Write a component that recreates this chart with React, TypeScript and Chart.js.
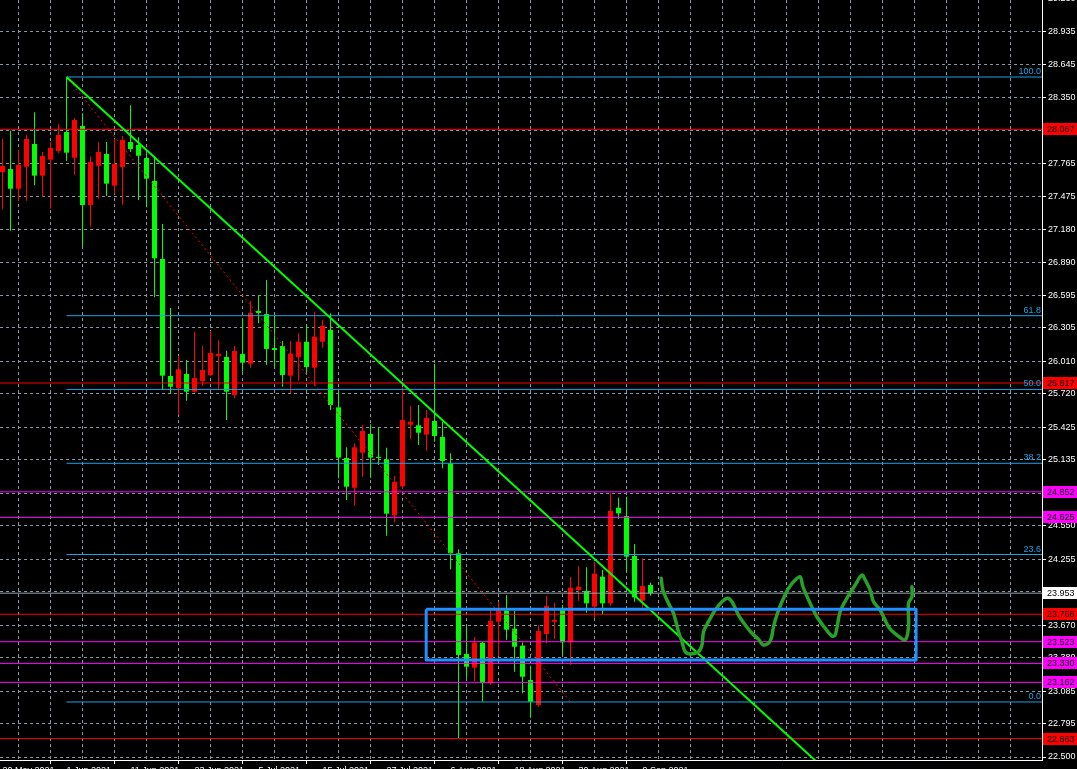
import React, { useEffect, useRef } from 'react';
import { Chart, registerables } from 'chart.js';

Chart.register(...registerables);

// ---- Data ----
const dateLabels = ['20 May 2021', '1 Jun 2021', '11 Jun 2021', '23 Jun 2021', '5 Jul 2021', '15 Jul 2021', '27 Jul 2021', '6 Aug 2021', '18 Aug 2021', '30 Aug 2021', '9 Sep 2021'];

const priceTicks = [22.5, 22.795, 23.085, 23.38, 23.67, 23.965, 24.255, 24.55, 24.84, 25.135, 25.425, 25.72, 26.01, 26.305, 26.595, 26.89, 27.18, 27.475, 27.765, 28.06, 28.35, 28.645, 28.935, 29.23];

const opens = [27.688, 27.715, 27.540, 27.735, 27.937, 27.656, 27.798, 27.875, 28.043, 27.815, 28.096, 27.396, 27.744, 27.848, 27.567, 27.733, 27.954, 27.928, 27.813, 27.609, 26.917, 25.879, 25.770, 25.897, 25.740, 25.835, 25.888, 26.056, 26.048, 25.711, 26.074, 25.988, 26.456, 26.429, 26.127, 26.145, 25.882, 26.048, 26.183, 25.953, 26.183, 26.287, 25.601, 25.152, 24.888, 25.199, 25.365, 25.161, 25.140, 24.644, 24.900, 25.447, 25.442, 25.359, 25.480, 25.338, 25.105, 24.307, 23.414, 23.292, 23.514, 23.154, 23.700, 23.798, 23.638, 23.487, 23.183, 22.961, 23.591, 23.700, 23.804, 23.517, 23.981, 23.972, 23.833, 24.099, 23.863, 24.711, 24.637, 24.283, 23.886, 24.025];
const highs = [27.981, 28.055, 27.884, 28.019, 28.218, 27.866, 27.954, 28.114, 28.531, 28.167, 28.209, 27.826, 27.954, 27.954, 27.981, 28.008, 28.280, 27.996, 27.854, 27.824, 27.227, 26.482, 26.056, 26.021, 26.272, 26.145, 26.278, 26.198, 26.103, 26.145, 26.385, 26.544, 26.598, 26.731, 26.414, 26.189, 26.189, 26.258, 26.331, 26.449, 26.376, 26.435, 25.735, 25.247, 25.282, 25.445, 25.451, 25.418, 25.243, 24.992, 25.779, 25.613, 25.622, 25.578, 25.986, 25.474, 25.194, 24.342, 23.653, 23.564, 23.525, 23.804, 23.875, 23.937, 23.795, 23.517, 23.310, 23.668, 23.928, 23.866, 23.848, 24.096, 24.194, 24.182, 24.232, 24.159, 24.839, 24.800, 24.809, 24.389, 24.262, 24.046];
const lows = [27.358, 27.168, 27.434, 27.434, 27.570, 27.469, 27.363, 27.854, 27.786, 27.664, 27.032, 27.203, 27.452, 27.476, 27.496, 27.398, 27.866, 27.440, 27.375, 26.577, 25.755, 25.726, 25.533, 25.660, 25.731, 25.790, 25.879, 25.761, 25.489, 25.681, 25.917, 25.953, 26.346, 25.977, 25.956, 25.784, 25.726, 25.837, 25.908, 25.790, 26.130, 25.578, 24.972, 24.779, 24.729, 24.986, 24.977, 25.090, 24.463, 24.582, 24.880, 25.318, 25.267, 25.217, 25.296, 25.060, 24.165, 22.666, 23.203, 23.174, 22.990, 23.139, 23.398, 23.538, 23.257, 23.065, 22.849, 22.946, 23.508, 23.547, 23.405, 23.316, 23.886, 23.780, 23.730, 23.768, 23.842, 24.611, 24.135, 23.877, 23.824, 23.931];
const closes = [27.742, 27.540, 27.750, 27.981, 27.656, 27.830, 27.901, 28.017, 27.860, 28.150, 27.396, 27.777, 27.866, 27.585, 27.759, 27.972, 27.892, 27.833, 27.629, 26.923, 25.882, 25.784, 25.939, 25.740, 25.861, 25.932, 26.083, 26.074, 25.740, 26.101, 25.997, 26.438, 26.438, 26.119, 26.110, 25.888, 26.077, 26.183, 25.959, 26.228, 26.325, 25.622, 25.155, 24.897, 25.247, 25.391, 25.155, 25.152, 24.658, 24.939, 25.489, 25.474, 25.376, 25.507, 25.347, 25.125, 24.307, 23.405, 23.301, 23.514, 23.154, 23.706, 23.798, 23.629, 23.478, 23.212, 22.990, 23.618, 23.839, 23.715, 23.517, 24.002, 24.010, 23.863, 24.126, 23.863, 24.682, 24.661, 24.277, 23.916, 24.017, 23.953];

const fibStartBar = 8;
const fibPrices = [28.531, 26.414, 25.760, 25.105, 24.296, 22.988];
const fibLabels = ['100.0', '61.8', '50.0', '38.2', '23.6', '0.0'];
const fibDiagX = [8, 71];
const fibDiagY = [28.531, 22.988];

const redLevels = [28.067, 25.817, 23.766, 22.663];
const magentaLevels = [24.852, 24.625, 23.523, 23.330, 23.162];
const bidPrice = 23.953;

const trendX = [8, 105];
const trendY = [28.531, 22.249];

const boxX = [52.96, 114.2];
const boxY = [23.810, 23.360];

const scribbleX = [82.34, 82.55, 83.25, 83.88, 84.5, 84.93, 85.34, 85.96, 87.0, 87.43, 87.63, 88.25, 89.09, 89.93, 90.63, 91.18, 92.0, 92.84, 93.68, 94.5, 95.13, 95.96, 96.38, 96.8, 97.43, 98.25, 99.09, 99.71, 100.05, 100.96, 101.8, 102.84, 103.68, 104.09, 104.71, 105.55, 106.59, 107.43, 107.84, 108.46, 108.88, 109.71, 110.75, 111.8, 112.84, 113.25, 113.25, 113.68, 113.68];
const scribbleY = [24.085, 23.981, 23.863, 23.774, 23.611, 23.523, 23.434, 23.414, 23.434, 23.493, 23.611, 23.700, 23.804, 23.877, 23.908, 23.877, 23.759, 23.671, 23.597, 23.544, 23.493, 23.529, 23.656, 23.759, 23.877, 23.996, 24.070, 24.099, 24.010, 23.863, 23.744, 23.641, 23.573, 23.582, 23.789, 23.908, 24.026, 24.114, 24.070, 23.981, 23.877, 23.804, 23.656, 23.582, 23.538, 23.656, 23.863, 23.922, 24.010];

// ---- Styles ----
const X_MIN = -0.3125;
const X_MAX = 129.9375;
const Y_MIN = 22.4734;
const Y_MAX = 29.214;
const UP = '#ff0000';
const DOWN = '#00ff00';
const GRID = '#8895a5';
const FIB = '#19a3e8';
const MAGENTA = '#ff00ff';
const FONT = '"Liberation Sans", Arial, sans-serif';

function hLine(price: number, color: string, x0 = X_MIN - 1) {
  return {
    type: 'line' as const,
    data: [{ x: x0, y: price }, { x: X_MAX + 1, y: price }],
    borderColor: color,
    borderWidth: 1,
    pointRadius: 0,
    clip: 0,
    order: 2,
  };
}

function zeroPadding(scale: any) {
  scale.paddingTop = 0;
  scale.paddingBottom = 0;
  scale.paddingLeft = 0;
  scale.paddingRight = 0;
}

const overlayPlugin = {
  id: 'mt4overlay',
  beforeDraw(chart: any) {
    const ctx = chart.ctx;
    ctx.save();
    ctx.fillStyle = '#000';
    ctx.fillRect(0, 0, chart.width, chart.height);
    ctx.restore();
  },
  afterDraw(chart: any) {
    const ctx = chart.ctx;
    const ys = chart.scales.y;
    const area = chart.chartArea;
    ctx.save();
    ctx.font = `9px ${FONT}`;
    // fib labels
    ctx.textAlign = 'right';
    ctx.textBaseline = 'alphabetic';
    ctx.fillStyle = FIB;
    fibPrices.forEach((p, k) => {
      ctx.fillText(fibLabels[k], area.right - 1, ys.getPixelForValue(p) - 3);
    });
    // price tags
    const tags: { price: number; bg: string }[] = [
      ...redLevels.map((p) => ({ price: p, bg: UP })),
      ...magentaLevels.map((p) => ({ price: p, bg: MAGENTA })),
      { price: bidPrice, bg: '#ffffff' },
    ];
    tags.forEach(({ price, bg }) => {
      const py = ys.getPixelForValue(price);
      ctx.fillStyle = bg;
      ctx.fillRect(area.right + 1, Math.round(py) - 6, chart.width - area.right - 1, 12);
      ctx.fillStyle = '#000';
      ctx.textAlign = 'left';
      ctx.textBaseline = 'middle';
      ctx.fillText(price.toFixed(3), area.right + 5, Math.round(py) + 0.5);
    });
    ctx.restore();
  },
};

export default function App() {
  const ref = useRef<HTMLCanvasElement | null>(null);

  useEffect(() => {
    if (!ref.current) return;
    const bars = opens.map((_, i) => i);
    const colors = bars.map((i) => (closes[i] >= opens[i] ? UP : DOWN));

    const datasets: any[] = [
      ...redLevels.map((p) => hLine(p, UP)),
      ...magentaLevels.map((p) => hLine(p, MAGENTA)),
      hLine(bidPrice, '#9aa3ad'),
      ...fibPrices.map((p) => hLine(p, FIB, fibStartBar)),
      {
        type: 'line',
        data: fibDiagX.map((x, k) => ({ x, y: fibDiagY[k] })),
        borderColor: UP,
        borderWidth: 1,
        borderDash: [2, 3],
        pointRadius: 0,
        clip: 0,
        order: 2,
      },
      {
        type: 'bar',
        data: bars.map((i) => ({ x: i, y: [lows[i], highs[i]] })),
        backgroundColor: colors,
        borderWidth: 0,
        barThickness: 1,
        grouped: false,
        inflateAmount: 0,
        order: 6,
      },
      {
        type: 'bar',
        data: bars.map((i) => ({ x: i, y: [opens[i], closes[i]] })),
        backgroundColor: colors,
        borderWidth: 0,
        barThickness: 5,
        grouped: false,
        inflateAmount: 0,
        minBarLength: 1,
        order: 5,
      },
      {
        type: 'line',
        data: trendX.map((x, k) => ({ x, y: trendY[k] })),
        borderColor: '#00ff00',
        borderWidth: 2,
        pointRadius: 0,
        clip: 0,
        order: 1,
      },
      {
        type: 'line',
        data: [
          { x: boxX[0], y: boxY[0] },
          { x: boxX[1], y: boxY[0] },
          { x: boxX[1], y: boxY[1] },
          { x: boxX[0], y: boxY[1] },
          { x: boxX[0], y: boxY[0] },
        ],
        borderColor: '#1e90ff',
        borderWidth: 3,
        borderJoinStyle: 'round',
        pointRadius: 0,
        tension: 0,
        clip: 0,
        order: 0,
      },
      {
        type: 'line',
        data: scribbleX.map((x, k) => ({ x, y: scribbleY[k] })),
        borderColor: '#27a127',
        borderWidth: 3.5,
        borderCapStyle: 'round',
        borderJoinStyle: 'round',
        pointRadius: 0,
        tension: 0.35,
        clip: 0,
        order: 0,
      },
    ];

    const chart = new Chart(ref.current, {
      type: 'bar',
      data: { datasets },
      plugins: [overlayPlugin],
      options: {
        animation: false,
        responsive: false,
        events: [],
        layout: { padding: 0, autoPadding: false },
        plugins: { legend: { display: false }, tooltip: { enabled: false } },
        scales: {
          x: {
            type: 'linear',
            min: X_MIN,
            max: X_MAX,
            offset: false,
            afterBuildTicks: (scale: any) => {
              const t: any[] = [];
              for (let v = 0; v <= 128; v += 4) t.push({ value: v });
              scale.ticks = t;
            },
            afterFit: (scale: any) => {
              scale.height = 9;
              zeroPadding(scale);
            },
            grid: {
              color: GRID,
              lineWidth: 1,
              tickLength: 4,
              tickColor: (c: any) => (c.tick && c.tick.value % 8 === 0 && c.tick.value <= 80 ? '#ffffff' : 'rgba(0,0,0,0)'),
            },
            border: { display: true, color: '#ffffff', width: 1, dash: [3, 3] },
            ticks: {
              autoSkip: false,
              maxRotation: 0,
              minRotation: 0,
              align: 'start',
              padding: 1,
              color: '#ffffff',
              font: { family: FONT, size: 9 },
              callback: (v: any) => {
                const n = Number(v);
                return n % 8 === 0 && dateLabels[n / 8] ? dateLabels[n / 8] : '';
              },
            },
          },
          y: {
            type: 'linear',
            position: 'right',
            min: Y_MIN,
            max: Y_MAX,
            afterBuildTicks: (scale: any) => {
              scale.ticks = priceTicks.map((v) => ({ value: v }));
            },
            afterFit: (scale: any) => {
              scale.width = 35;
              zeroPadding(scale);
            },
            grid: {
              color: GRID,
              lineWidth: 1,
              tickLength: 4,
              tickColor: '#ffffff',
            },
            border: { display: true, color: '#ffffff', width: 1, dash: [3, 3] },
            ticks: {
              autoSkip: false,
              padding: 2,
              color: '#ffffff',
              font: { family: FONT, size: 9 },
              callback: (v: any) => Number(v).toFixed(3),
            },
          },
        },
      } as any,
    });
    return () => chart.destroy();
  }, []);

  return (
    <div style={{ position: 'fixed', left: 0, top: 0, width: 1077, height: 769, background: '#000', overflow: 'hidden' }}>
      <canvas ref={ref} width={1077} height={769} style={{ display: 'block', width: 1077, height: 769 }} />
    </div>
  );
}
